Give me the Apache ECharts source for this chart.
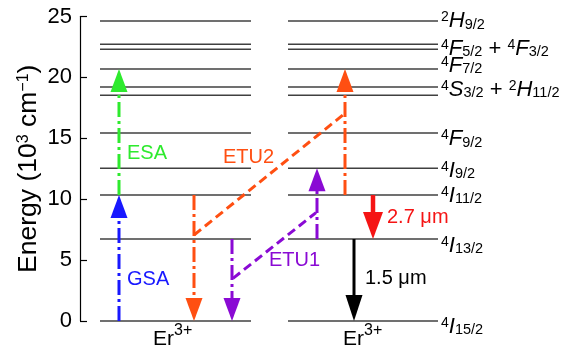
<!DOCTYPE html>
<html><head><meta charset="utf-8">
<script src="https://cdn.jsdelivr.net/npm/echarts@6/dist/echarts.min.js"></script>
<style>html,body{margin:0;padding:0;background:#fff}#c{width:579px;height:349px}</style>
</head><body><div id="c"></div>
<script>
const FONT = '"Liberation Sans", Arial, Helvetica, sans-serif';

// ---- data ----
// Er3+ energy levels (10^3 cm^-1)
const levelEnergy = [0, 6.73, 10.34, 12.54, 15.43, 18.53, 19.21, 20.69, 22.31, 22.72, 24.63];
// level names (rich text) and the energy at which each name is centred
const levelLabels = [
  '{sup|4}{m|I}{sub|15/2}',
  '{sup|4}{m|I}{sub|13/2}',
  '{sup|4}{m|I}{sub|11/2}',
  '{sup|4}{m|I}{sub|9/2}',
  '{sup|4}{m|F}{sub|9/2}',
  '{sup|4}{m|S}{sub|3/2}{p| + }{sup|2}{m|H}{sub|11/2}',
  '{sup|4}{m|F}{sub|7/2}',
  '{sup|4}{m|F}{sub|5/2}{p| + }{sup|4}{m|F}{sub|3/2}',
  '{sup|2}{m|H}{sub|9/2}'
];
const levelLabelEnergy = [-0.49, 6.16, 10.28, 12.33, 14.94, 18.97, 20.95, 22.36, 24.63];
const yTicks = [0, 5, 10, 15, 20, 25];

// transitions: position along the (schematic) x axis, start and end energy
const transitionNames = ['GSA', 'ESA', 'ETU2 donor', 'ETU1 donor', 'ETU2 acceptor', 'ETU1 acceptor', '2.7 um', '1.5 um'];
const transitionX    = [119, 119, 194, 232, 345, 317, 373, 354];
const transitionFrom = [0, 10.34, 10.34, 6.73, 10.34, 6.73, 10.34, 6.73];
const transitionTo   = [10.34, 20.69, 0, 0, 20.69, 12.54, 6.73, 0];

// energy-transfer paths
const etu2Path = [[194, 7.06], [345, 17.05]];
const etu1Path = [[233, 3.5], [316, 8.9]];

// annotations
const noteTexts = ['ESA', 'ETU2', 'GSA', 'ETU1', '2.7 μm', '1.5 μm', '{m|Er}{s|3+}', '{m|Er}{s|3+}'];
const noteX = [127, 223, 127, 269, 387, 365, 153, 343];
const noteY = [13.75, 13.42, 3.37, 5.0, 8.5, 3.5, -1.52, -1.52];

// ---- styles ----
const C = {blue:'#1818ff', green:'#2eea2e', orange:'#ff4f12', purple:'#8a0ad4', red:'#f51414', black:'#000000'};
const DASHDOT = [15, 4, 3, 4];
const arrowStyles = [
  {color:C.blue,   dash:DASHDOT, w:3, hl:23, hw:17},
  {color:C.green,  dash:DASHDOT, w:3, hl:23, hw:17},
  {color:C.orange, dash:DASHDOT, w:3, hl:23, hw:17},
  {color:C.purple, dash:DASHDOT, w:3, hl:23, hw:17},
  {color:C.orange, dash:DASHDOT, w:3, hl:23, hw:17},
  {color:C.purple, dash:DASHDOT, w:3, hl:23, hw:17},
  {color:C.red,    dash:null,    w:4.5, hl:27, hw:20},
  {color:C.black,  dash:null,    w:3, hl:26, hw:17}
];
const noteColors = [C.green, C.orange, C.blue, C.purple, C.red, C.black, C.black, C.black];
const COLUMNS = [[100, 251], [288, 438]];
const LABEL_X = 441;

const chart = echarts.init(document.getElementById('c'), null, {renderer:'canvas'});

const option = {
  animation: false,
  backgroundColor: '#fff',
  grid: {left: 80, right: 0, top: 16.5, bottom: 28, containLabel: false},
  xAxis: {type:'value', min:80, max:579, show:false},
  yAxis: {
    type:'value', min:0, max:25, interval:5,
    name: 'Energy (10{sup|3} cm{sup|−1})',
    nameLocation: 'middle', nameRotate: 90, nameGap: 38, nameMoveOverlap: false,
    nameTextStyle: {fontFamily: FONT, fontSize: 26.5, color:'#000', lineHeight: 26,
      rich: {sup: {fontFamily: FONT, fontSize: 16, lineHeight: 14, verticalAlign:'top', color:'#000'}}},
    axisLine: {show:true, lineStyle:{color:'#000', width:1.2}},
    axisTick: {show:true, inside:true, length:7, lineStyle:{color:'#000', width:1.2}},
    axisLabel: {fontFamily: FONT, fontSize: 22, color:'#000', margin: 8,
      formatter: v => yTicks.includes(v) ? String(v) : ''},
    splitLine: {show:false}
  },
  series: [
    {
      type:'custom', name:'levels', clip:false, silent:true, z:1,
      data: levelEnergy.map(e => [COLUMNS[0][0], e]),
      encode: {x:0, y:1},
      renderItem: (params, api) => {
        const e = api.value(1);
        return {type:'group', children: COLUMNS.map(([x0, x1]) => {
          const a = api.coord([x0, e]), b = api.coord([x1, e]);
          return {type:'line', shape:{x1:a[0], y1:a[1], x2:b[0], y2:b[1]},
                  style:{stroke:'#404040', lineWidth:1.6}};
        })};
      }
    },
    {
      type:'custom', name:'level names', clip:false, silent:true, z:2,
      data: levelLabelEnergy.map((e, i) => [LABEL_X, e, i]),
      encode: {x:0, y:1},
      renderItem: (params, api) => {
        const p = api.coord([api.value(0), api.value(1)]);
        const i = api.value(2);
        return {type:'text', x:p[0], y:p[1], style:{
          text: levelLabels[i], align:'left', verticalAlign:'middle', fill:'#000',
          rich: {
            m:   {fontFamily:FONT, fontSize:22, fontStyle:'italic', lineHeight:22, verticalAlign:'middle', fill:'#000'},
            p:   {fontFamily:FONT, fontSize:22, lineHeight:22, verticalAlign:'middle', fill:'#000'},
            sup: {fontFamily:FONT, fontSize:14, lineHeight:12, verticalAlign:'top', fill:'#000'},
            sub: {fontFamily:FONT, fontSize:14.5, lineHeight:12, verticalAlign:'bottom', fill:'#000'}
          }
        }};
      }
    },
    {
      type:'line', name:'ETU2', data: etu2Path, symbol:'none', silent:true, z:3,
      lineStyle:{color:C.orange, width:3, type:[9,5]}
    },
    {
      type:'line', name:'ETU1', data: etu1Path, symbol:'none', silent:true, z:3,
      lineStyle:{color:C.purple, width:3, type:[9,5]}
    },
    {
      type:'custom', name:'transitions', clip:false, silent:true, z:4,
      data: transitionX.map((x, i) => [x, transitionFrom[i], transitionTo[i], i]),
      encode: {x:0, y:[1, 2]},
      renderItem: (params, api) => {
        const x = api.value(0), i = api.value(3);
        const s = arrowStyles[i];
        const p0 = api.coord([x, api.value(1)]);
        const p1 = api.coord([x, api.value(2)]);
        const dir = p1[1] > p0[1] ? 1 : -1;
        const baseY = p1[1] - dir * s.hl;
        return {type:'group', children:[
          {type:'line', shape:{x1:p0[0], y1:p0[1], x2:p0[0], y2:baseY + dir * 1},
           style:{stroke:s.color, lineWidth:s.w, lineDash:s.dash || null}},
          {type:'polygon', shape:{points:[[p1[0], p1[1]], [p1[0] - s.hw/2, baseY], [p1[0] + s.hw/2, baseY]]},
           style:{fill:s.color}}
        ]};
      }
    },
    {
      type:'custom', name:'notes', clip:false, silent:true, z:5,
      data: noteX.map((x, i) => [x, noteY[i], i]),
      encode: {x:0, y:1},
      renderItem: (params, api) => {
        const i = api.value(2);
        const p = api.coord([api.value(0), api.value(1)]);
        return {type:'text', x:p[0], y:p[1], style:{
          text: noteTexts[i], align:'left', verticalAlign:'middle',
          fill: noteColors[i], fontFamily: FONT, fontSize: 20,
          rich: {
            m: {fontFamily:FONT, fontSize:21, lineHeight:33, verticalAlign:'middle', fill:noteColors[i]},
            s: {fontFamily:FONT, fontSize:16, lineHeight:15, verticalAlign:'top', fill:noteColors[i]}
          }
        }};
      }
    }
  ]
};
chart.setOption(option);
</script>
</body></html>
